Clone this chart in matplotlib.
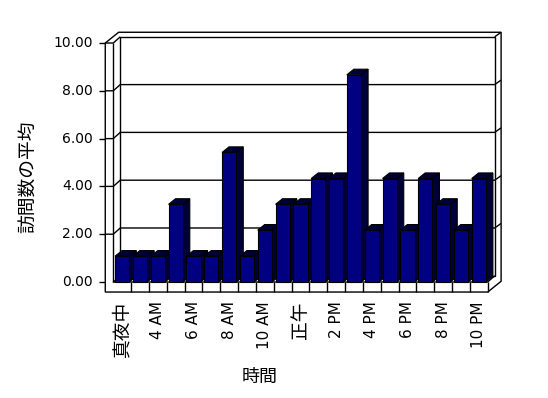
import matplotlib.pyplot as plt
from matplotlib.patches import Polygon, Rectangle

plt.rcParams['font.family'] = ['DejaVu Sans', 'Noto Sans CJK JP']

# ----- data -----
hours = ['真夜中', '2 AM', '4 AM', '5 AM', '6 AM', '7 AM', '8 AM', '9 AM', '10 AM', '11 AM',
         '正午', '1 PM', '2 PM', '3 PM', '4 PM', '5 PM', '6 PM', '7 PM', '8 PM', '9 PM', '10 PM']
visits = [1.08, 1.08, 1.08, 3.25, 1.08, 1.08, 5.42, 1.08, 2.17, 3.25, 3.25,
          4.33, 4.33, 8.67, 2.17, 4.33, 2.17, 4.33, 3.25, 2.17, 4.33]
y_ticks = [0, 2, 4, 6, 8, 10]

FRONT = '#000080'
SHADE = '#000038'

# fake 3d box, everything in data units (1 per category / 1 per visit)
x0, x1 = -0.5, len(hours) - 0.5
top = y_ticks[-1]
bar_w = 0.8
dx, dy = 0.39, 0.26     # front -> back wall
tx, ty = 0.36, 0.19     # back wall thickness
wt, ft = 0.45, 0.42     # left wall / floor thickness
lw = 1.0

fig = plt.figure(figsize=(5.48, 3.98), dpi=100)
ax = fig.add_axes([0, 0, 1, 1])
ax.set_xlim(-6.854, 23.88)
ax.set_ylim(-4.854, 11.80)
ax.axis('off')

def line(xs, ys, z=2):
    ax.plot(xs, ys, color='black', lw=lw, zorder=z, solid_capstyle='butt')

# walls + floor
outline = [(x0 - wt, -ft), (x0 - wt, top), (x0 - wt + dx + tx, top + dy + ty),
           (x1 + dx + tx, top + dy + ty), (x1 + dx + tx, -ft + dy + ty), (x1, -ft)]
ax.add_patch(Polygon(outline, closed=True, fc='white', ec='black', lw=lw, zorder=1))
ax.add_patch(Rectangle((x0 + dx, dy), x1 - x0, top, fc='white', ec='black', lw=lw, zorder=1))
line([x0 - wt, x0, x0 + dx], [top, top, top + dy])
line([x0, x0], [0, top])
line([x0 + dx, x0, x1, x1 + dx], [dy, 0, 0, dy])
line([x1, x1], [-ft, 0])
line([x1 + dx, x1 + dx + tx], [top + dy, top + dy + ty])

# gridlines
for v in y_ticks[1:-1]:
    line([x0 - wt, x0, x0 + dx, x1 + dx, x1 + dx + tx],
         [v, v, v + dy, v + dy, v + dy + ty])
for v in y_ticks:
    line([x0 - wt - 0.34, x0 - wt], [v, v])
    ax.text(x0 - wt - 0.7, v, f'{v:.2f}', ha='right', va='center', fontsize=10)

# category ticks on the floor front
for i in range(len(hours) - 1):
    line([i + 0.5, i + 0.5], [0, -ft])

# bars
for i, h in enumerate(visits):
    z = 3 + i
    l, r = i - bar_w / 2, i + bar_w / 2
    ax.add_patch(Polygon([(r, 0), (r + dx, dy * 0.9), (r + dx, h + dy * 0.9), (r, h)],
                         closed=True, fc=SHADE, ec='black', lw=0.8, zorder=z))
    ax.add_patch(Polygon([(l, h), (r, h), (r + dx, h + dy * 0.9), (l + dx, h + dy * 0.9)],
                         closed=True, fc=SHADE, ec='black', lw=0.8, zorder=z))
    ax.add_patch(Rectangle((l, 0), bar_w, h, fc=FRONT, ec='black', lw=0.8, zorder=z))

# labels
for i, lab in enumerate(hours):
    if i % 2:
        continue
    size = 11 if lab.isascii() else 13.5
    ax.text(i, -0.8, lab, rotation=90, ha='center', va='top', fontsize=size)

ax.text(-5.28, 4.41, '訪問数の平均', rotation=90, ha='center', va='center', fontsize=13.5)
ax.text(7.73, -3.97, '時間', ha='center', va='center', fontsize=13)

plt.savefig('out.png', dpi=100)
